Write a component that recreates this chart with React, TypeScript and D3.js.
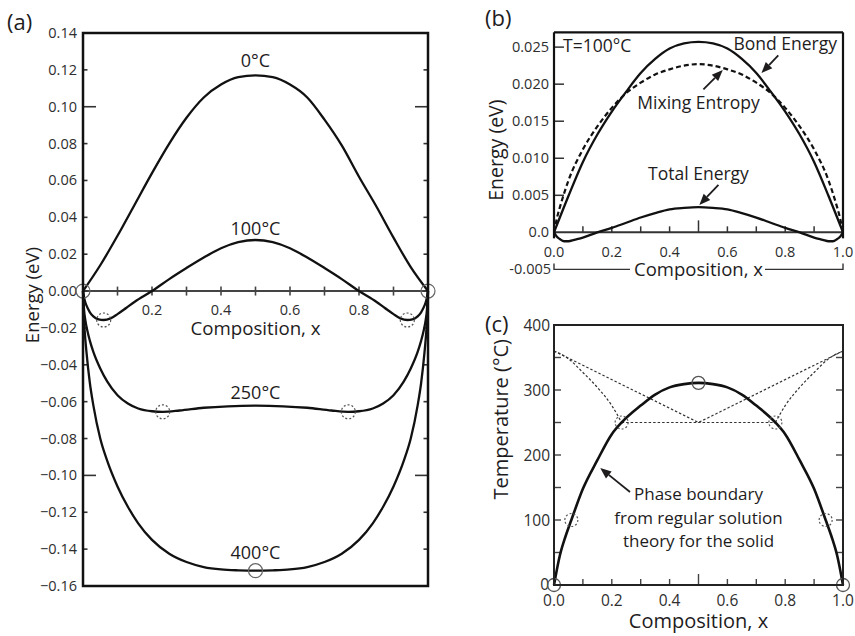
import React from "react";
import * as d3 from "d3";

const FONT = "'Open Sans', 'Noto Sans', sans-serif";
const INK = "#1e1c1d";
const TICKINK = "#2e2e2e";

// ---------------- Panel (a) data ----------------
const aTicksY = [0.14, 0.12, 0.1, 0.08, 0.06, 0.04, 0.02, 0.0, -0.02, -0.04, -0.06, -0.08, -0.1, -0.12, -0.14, -0.16];
const aTicksX = [0.1, 0.2, 0.3, 0.4, 0.5, 0.6, 0.7, 0.8, 0.9];
const aTickLabelsX = [0.2, 0.4, 0.6, 0.8];

const a0X = [0, 0.05, 0.1, 0.15, 0.2, 0.25, 0.3, 0.35, 0.4, 0.45, 0.5, 0.55, 0.6, 0.65, 0.7, 0.75, 0.8, 0.85, 0.9, 0.95, 1];
const a0Y = [0, 0.014, 0.03, 0.047, 0.064, 0.08, 0.094, 0.105, 0.112, 0.116, 0.117, 0.116, 0.112, 0.105, 0.093, 0.079, 0.062, 0.046, 0.029, 0.013, 0];

const a100X = [0, 0.005, 0.01, 0.02, 0.03, 0.045, 0.06, 0.08, 0.1, 0.125, 0.15, 0.2, 0.25, 0.3, 0.35, 0.4, 0.45, 0.5, 0.55, 0.6, 0.65, 0.7, 0.75, 0.8, 0.85, 0.875, 0.9, 0.92, 0.94, 0.955, 0.97, 0.98, 0.99, 0.995, 1];
const a100Y = [0, -0.005, -0.0078, -0.0115, -0.0137, -0.0153, -0.0157, -0.0148, -0.0125, -0.0092, -0.0058, 0, 0.0065, 0.0125, 0.0182, 0.0232, 0.0265, 0.0277, 0.0265, 0.0232, 0.0182, 0.0125, 0.0065, 0, -0.0058, -0.0092, -0.0125, -0.0148, -0.0157, -0.0153, -0.0137, -0.0115, -0.0078, -0.005, 0];

const a250X = [0, 0.003, 0.007, 0.012, 0.02, 0.03, 0.05, 0.07, 0.1, 0.13, 0.16, 0.2, 0.231, 0.28, 0.35, 0.42, 0.5, 0.58, 0.65, 0.72, 0.769, 0.8, 0.84, 0.87, 0.9, 0.93, 0.95, 0.97, 0.98, 0.988, 0.993, 0.997, 1];
const a250Y = [0, -0.01, -0.016, -0.021, -0.027, -0.033, -0.042, -0.049, -0.0565, -0.061, -0.0637, -0.0652, -0.0655, -0.0648, -0.0633, -0.0625, -0.0622, -0.0625, -0.0633, -0.0648, -0.0655, -0.0652, -0.0637, -0.061, -0.0565, -0.049, -0.042, -0.033, -0.027, -0.021, -0.016, -0.01, 0];

const a400X = [0, 0.002, 0.005, 0.01, 0.02, 0.03, 0.05, 0.07, 0.1, 0.13, 0.16, 0.2, 0.25, 0.3, 0.35, 0.4, 0.45, 0.5, 0.55, 0.6, 0.65, 0.7, 0.75, 0.8, 0.84, 0.87, 0.9, 0.93, 0.95, 0.97, 0.98, 0.99, 0.995, 0.998, 1];
const a400Y = [0, -0.012, -0.022, -0.033, -0.05, -0.062, -0.08, -0.092, -0.106, -0.117, -0.126, -0.135, -0.1425, -0.147, -0.1497, -0.151, -0.1515, -0.1517, -0.1515, -0.151, -0.1497, -0.147, -0.1425, -0.135, -0.126, -0.117, -0.106, -0.092, -0.08, -0.062, -0.05, -0.033, -0.022, -0.012, 0];

const aLabels = ["0°C", "100°C", "250°C", "400°C"];
const aLabelVals = [0.1217, 0.0303, -0.0585, -0.1455];

const aSolidCircleX = [0, 1, 0.5];
const aSolidCircleY = [0, 0, -0.1517];
const aDashCircleX = [0.06, 0.94, 0.231, 0.769];
const aDashCircleY = [-0.0157, -0.0157, -0.0655, -0.0655];

// ---------------- Panel (b) data ----------------
const bTicksY = [0.025, 0.02, 0.015, 0.01, 0.005, 0.0];
const bTickLabelsY = ["0.025", "0.020", "0.015", "0.010", "0.005", "0.0"];
const bTicksX = [0.1, 0.2, 0.3, 0.4, 0.5, 0.6, 0.7, 0.8, 0.9];
const bTickLabelsX = [0, 0.2, 0.4, 0.6, 0.8, 1.0];

const bondX = [0, 0.05, 0.1, 0.15, 0.2, 0.25, 0.3, 0.35, 0.4, 0.45, 0.5, 0.55, 0.6, 0.65, 0.7, 0.75, 0.8, 0.85, 0.9, 0.95, 1];
const bondY = [0, 0.0049, 0.0095, 0.0132, 0.0163, 0.019, 0.0215, 0.0234, 0.0248, 0.0255, 0.0257, 0.0255, 0.0248, 0.0234, 0.0215, 0.019, 0.0163, 0.0132, 0.0095, 0.0049, 0];

const entX = [0, 0.01, 0.025, 0.05, 0.1, 0.15, 0.2, 0.25, 0.3, 0.35, 0.4, 0.45, 0.5, 0.55, 0.6, 0.65, 0.7, 0.75, 0.8, 0.85, 0.9, 0.95, 0.975, 0.99, 1];
const entY = [0, 0.0019, 0.004, 0.007, 0.0112, 0.0143, 0.0168, 0.0188, 0.0202, 0.0213, 0.022, 0.0225, 0.0227, 0.0225, 0.022, 0.0213, 0.0202, 0.0188, 0.0168, 0.0143, 0.0112, 0.007, 0.004, 0.0019, 0];

const totX = [0, 0.01, 0.02, 0.035, 0.05, 0.07, 0.1, 0.15, 0.2, 0.25, 0.3, 0.35, 0.4, 0.45, 0.5, 0.55, 0.6, 0.65, 0.7, 0.75, 0.8, 0.85, 0.9, 0.93, 0.95, 0.965, 0.98, 0.99, 1];
const totY = [0, -0.0006, -0.0009, -0.0012, -0.0012, -0.001, -0.0007, 0, 0.0006, 0.0013, 0.002, 0.0026, 0.0031, 0.0033, 0.0034, 0.0033, 0.0031, 0.0026, 0.002, 0.0013, 0.0006, 0, -0.0007, -0.001, -0.0012, -0.0012, -0.0009, -0.0006, 0];

// ---------------- Panel (c) data ----------------
const cTicksY = [50, 100, 150, 200, 250, 300, 350];
const cTickLabelsY = [0, 100, 200, 300, 400];
const cTicksX = [0.1, 0.2, 0.3, 0.4, 0.5, 0.6, 0.7, 0.8, 0.9];
const cTickLabelsX = [0, 0.2, 0.4, 0.6, 0.8, 1.0];

const bndX = [0, 0.02, 0.04, 0.06, 0.1, 0.15, 0.2, 0.234, 0.3, 0.35, 0.4, 0.45, 0.5, 0.55, 0.6, 0.65, 0.7, 0.766, 0.8, 0.85, 0.9, 0.94, 0.96, 0.98, 1];
const bndT = [0, 45, 75, 100, 148, 192, 232, 250, 276, 293, 304, 309, 311, 309, 304, 293, 276, 250, 232, 192, 148, 100, 75, 45, 0];

const spinLX = [0, 0.05, 0.1, 0.15, 0.2, 0.234];
const spinLT = [360, 348, 327, 304, 276, 250];
const spinRX = [0.766, 0.8, 0.85, 0.9, 0.95, 1];
const spinRT = [250, 276, 304, 327, 348, 360];
const vX = [0, 0.5, 1];
const vT = [360, 250, 360];
const tieX = [0.234, 0.766];
const tieT = [250, 250];

const cSolidCircleX = [0, 1, 0.5];
const cSolidCircleT = [0, 0, 311];
const cDashCircleX = [0.06, 0.94, 0.234, 0.766];
const cDashCircleT = [100, 100, 250, 250];

// ---------------- scales ----------------
const xa = d3.scaleLinear().domain([0, 1]).range([83, 428]);
const ya = d3.scaleLinear().domain([-0.16, 0.14]).range([586, 33]);
const xb = d3.scaleLinear().domain([0, 1]).range([554, 843]);
const yb = d3.scaleLinear().domain([-0.005, 0.027]).range([269.4, 32.3]);
const xc = d3.scaleLinear().domain([0, 1]).range([554, 843]);
const yc = d3.scaleLinear().domain([0, 400]).range([585, 325]);

const zip = (xs: number[], ys: number[]) => xs.map((x, i) => [x, ys[i]] as [number, number]);

function mkLine(xs: any, ys: any, curve: any = d3.curveMonotoneX) {
  return d3.line<[number, number]>().x((d) => xs(d[0])).y((d) => ys(d[1])).curve(curve);
}

const lineA = mkLine(xa, ya);
const lineB = mkLine(xb, yb);
const lineC = mkLine(xc, yc);
const lineCLin = mkLine(xc, yc, d3.curveLinear);

function Arrow({ x1, y1, x2, y2 }: { x1: number; y1: number; x2: number; y2: number }) {
  const ang = Math.atan2(y2 - y1, x2 - x1);
  const L = 11, W = 4.5;
  const bx = x2 - L * Math.cos(ang), by = y2 - L * Math.sin(ang);
  const px = -Math.sin(ang), py = Math.cos(ang);
  const pts = `${x2},${y2} ${bx + W * px},${by + W * py} ${bx - W * px},${by - W * py}`;
  return (
    <g>
      <line x1={x1} y1={y1} x2={bx} y2={by} stroke={INK} strokeWidth={1.8} />
      <polygon points={pts} fill={INK} />
    </g>
  );
}

export default function App() {
  const fmt2 = d3.format(".2f");
  const fmt1 = d3.format(".1f");
  const [a0, a1] = xa.range();
  const [b0, b1] = xb.range();
  return (
    <svg width={855} height={636} style={{ position: "absolute", left: 0, top: 0 }} fontFamily={FONT}>
      <rect x={0} y={0} width={855} height={636} fill="#fff" />

      {/* ================= Panel (a) ================= */}
      <text x={7} y={30} fontSize={22} fill={INK}>(a)</text>
      <line x1={a0} x2={a1} y1={ya(0)} y2={ya(0)} stroke="#444" strokeWidth={2} />
      {aTicksX.map((t) => (
        <line key={t} x1={xa(t)} x2={xa(t)} y1={ya(0) - 4.5} y2={ya(0) + 4.5} stroke="#444" strokeWidth={1.6} />
      ))}
      {aTickLabelsX.map((t) => (
        <text key={t} x={xa(t)} y={ya(0) + 24} fontSize={14.5} textAnchor="middle" fill={TICKINK}>{fmt1(t)}</text>
      ))}
      <text x={xa(0.5)} y={ya(0) + 44} fontSize={18.7} textAnchor="middle" fill={INK}>Composition, x</text>
      {aTicksY.map((t) => {
        const long = Math.abs(Math.abs(t) - 0.1) < 1e-9;
        const len = long ? 13 : 4.5;
        return (
          <g key={t}>
            <line x1={a0} x2={a0 + len} y1={ya(t)} y2={ya(t)} stroke="#333" strokeWidth={1.6} />
            <line x1={a1} x2={a1 - len} y1={ya(t)} y2={ya(t)} stroke="#333" strokeWidth={1.6} />
            <text x={77} y={ya(t) + 5} fontSize={14.5} textAnchor="end" fill={TICKINK}>{fmt2(t)}</text>
          </g>
        );
      })}
      <text transform={`translate(39,${ya(-0.0022)}) rotate(-90)`} fontSize={18.5} textAnchor="middle" fill={INK}>Energy (eV)</text>
      {[zip(a0X, a0Y), zip(a100X, a100Y), zip(a250X, a250Y), zip(a400X, a400Y)].map((pts, i) => (
        <path key={i} d={lineA(pts) || ""} fill="none" stroke="#111" strokeWidth={2.3} />
      ))}
      {aLabels.map((l, i) => (
        <text key={l} x={xa(0.5)} y={ya(aLabelVals[i])} fontSize={18} textAnchor="middle" fill={INK}>{l}</text>
      ))}
      {aSolidCircleX.map((x, i) => (
        <circle key={i} cx={xa(x)} cy={ya(aSolidCircleY[i])} r={7} fill="none" stroke="#666" strokeWidth={1.2} />
      ))}
      {aDashCircleX.map((x, i) => (
        <circle key={i} cx={xa(x)} cy={ya(aDashCircleY[i])} r={7} fill="none" stroke="#555" strokeWidth={1.2} strokeDasharray="2,2" />
      ))}
      <rect x={a0} y={ya(0.14)} width={a1 - a0} height={ya(-0.16) - ya(0.14)} fill="none" stroke="#111" strokeWidth={2.5} />

      {/* ================= Panel (b) ================= */}
      <text x={485} y={26} fontSize={22} fill={INK}>(b)</text>
      <line x1={b0} x2={b1} y1={yb(0)} y2={yb(0)} stroke="#333" strokeWidth={2} />
      {bTicksX.map((t) => (
        <line key={t} x1={xb(t)} x2={xb(t)} y1={yb(0)} y2={yb(0) - (t === 0.5 ? 12 : 6)} stroke="#333" strokeWidth={1.5} />
      ))}
      {bTickLabelsX.map((t) => (
        <text key={t} x={xb(t)} y={yb(0) + 25} fontSize={14.5} textAnchor="middle" fill={TICKINK}>{fmt1(t)}</text>
      ))}
      {bTicksY.map((t, i) => (
        <g key={t}>
          {t !== 0 && <line x1={b0} x2={b0 + 10} y1={yb(t)} y2={yb(t)} stroke="#333" strokeWidth={1.5} />}
          <text x={549} y={yb(t) + 5} fontSize={14.5} textAnchor="end" fill={TICKINK}>{bTickLabelsY[i]}</text>
        </g>
      ))}
      <text x={551} y={yb(-0.005) + 5} fontSize={14.5} textAnchor="end" fill={TICKINK}>-0.005</text>
      <line x1={b0} x2={b1} y1={yb(0.027)} y2={yb(0.027)} stroke="#111" strokeWidth={2.2} />
      <line x1={b0} x2={b0} y1={yb(0.027)} y2={yb(0) + 6} stroke="#111" strokeWidth={2.2} />
      <line x1={b1} x2={b1} y1={yb(0.027)} y2={yb(0) + 6} stroke="#111" strokeWidth={2.2} />
      <polyline points={`${b0},${yb(-0.005) - 6} ${b0},${yb(-0.005)} ${630},${yb(-0.005)}`} fill="none" stroke="#333" strokeWidth={1.4} />
      <polyline points={`${765},${yb(-0.005)} ${b1},${yb(-0.005)} ${b1},${yb(-0.005) - 6}`} fill="none" stroke="#333" strokeWidth={1.4} />
      <text x={xb(0.5)} y={yb(-0.005) + 7} fontSize={18.5} textAnchor="middle" fill={INK}>Composition, x</text>
      <text transform={`translate(503,${yb(0.0111)}) rotate(-90)`} fontSize={19.5} textAnchor="middle" fill={INK}>Energy (eV)</text>
      <path d={lineB(zip(bondX, bondY)) || ""} fill="none" stroke="#111" strokeWidth={2.3} />
      <path d={lineB(zip(entX, entY)) || ""} fill="none" stroke="#111" strokeWidth={2.2} strokeDasharray="5,3" />
      <path d={lineB(zip(totX, totY)) || ""} fill="none" stroke="#111" strokeWidth={2.3} />
      <text x={563} y={yb(0.0243)} fontSize={17.5} fill={INK}>T=100°C</text>
      <text x={837} y={yb(0.0246)} fontSize={17.5} textAnchor="end" fill={INK}>Bond Energy</text>
      <text x={xb(0.5)} y={yb(0.0166)} fontSize={17.5} textAnchor="middle" fill={INK}>Mixing Entropy</text>
      <text x={xb(0.5)} y={yb(0.0071)} fontSize={17.5} textAnchor="middle" fill={INK}>Total Energy</text>
      <Arrow x1={xb(0.776)} y1={yb(0.0239)} x2={xb(0.718)} y2={yb(0.0215)} />
      <Arrow x1={xb(0.517)} y1={yb(0.0193)} x2={xb(0.584)} y2={yb(0.0219)} />
      <Arrow x1={xb(0.569)} y1={yb(0.0064)} x2={xb(0.503)} y2={yb(0.0037)} />

      {/* ================= Panel (c) ================= */}
      <text x={485} y={332} fontSize={22} fill={INK}>(c)</text>
      {cTicksY.map((t) => (
        <g key={t}>
          <line x1={xc(0)} x2={xc(0) + 7} y1={yc(t)} y2={yc(t)} stroke="#444" strokeWidth={1.4} />
          <line x1={xc(1)} x2={xc(1) - 7} y1={yc(t)} y2={yc(t)} stroke="#444" strokeWidth={1.4} />
        </g>
      ))}
      {cTicksX.map((t) => (
        <line key={t} x1={xc(t)} x2={xc(t)} y1={yc(0)} y2={yc(0) - (t === 0.5 ? 11 : 6)} stroke="#444" strokeWidth={1.4} />
      ))}
      {cTickLabelsY.map((t) => (
        <text key={t} x={t === 0 ? 549 : 550} y={yc(t) + (t === 0 ? 4.5 : 5.5)} fontSize={15.5} textAnchor="end" fill={TICKINK}>{t}</text>
      ))}
      {cTickLabelsX.map((t) => (
        <text key={t} x={xc(t)} y={606} fontSize={15.5} textAnchor="middle" fill={TICKINK}>{fmt1(t)}</text>
      ))}
      <text x={xc(0.5)} y={628} fontSize={20} textAnchor="middle" fill={INK}>Composition, x</text>
      <text transform={`translate(508,${yc(255)}) rotate(-90)`} fontSize={20} textAnchor="middle" fill={INK}>Temperature (°C)</text>
      {[zip(spinLX, spinLT), zip(spinRX, spinRT)].map((pts, i) => (
        <path key={i} d={lineC(pts) || ""} fill="none" stroke="#333" strokeWidth={1.2} strokeDasharray="2.5,2" />
      ))}
      {[zip(vX, vT), zip(tieX, tieT)].map((pts, i) => (
        <path key={i} d={lineCLin(pts) || ""} fill="none" stroke="#333" strokeWidth={1.2} strokeDasharray="2.5,2" />
      ))}
      <path d={lineC(zip(bndX, bndT)) || ""} fill="none" stroke="#111" strokeWidth={2.6} />
      {cSolidCircleX.map((x, i) => (
        <circle key={i} cx={xc(x)} cy={yc(cSolidCircleT[i])} r={6.5} fill="none" stroke="#555" strokeWidth={1.3} />
      ))}
      {cDashCircleX.map((x, i) => (
        <circle key={i} cx={xc(x)} cy={yc(cDashCircleT[i])} r={6.5} fill="none" stroke="#555" strokeWidth={1.2} strokeDasharray="2,2" />
      ))}
      <text x={xc(0.5)} y={500} fontSize={17} textAnchor="middle" fill={INK}>Phase boundary</text>
      <text x={xc(0.5)} y={524} fontSize={17} textAnchor="middle" fill={INK}>from regular solution</text>
      <text x={xc(0.5)} y={547} fontSize={17} textAnchor="middle" fill={INK}>theory for the solid</text>
      <Arrow x1={xc(0.263)} y1={yc(143)} x2={xc(0.16)} y2={yc(180)} />
      <rect x={xc(0)} y={yc(400)} width={xc(1) - xc(0)} height={yc(0) - yc(400)} fill="none" stroke="#222" strokeWidth={2} />
    </svg>
  );
}
